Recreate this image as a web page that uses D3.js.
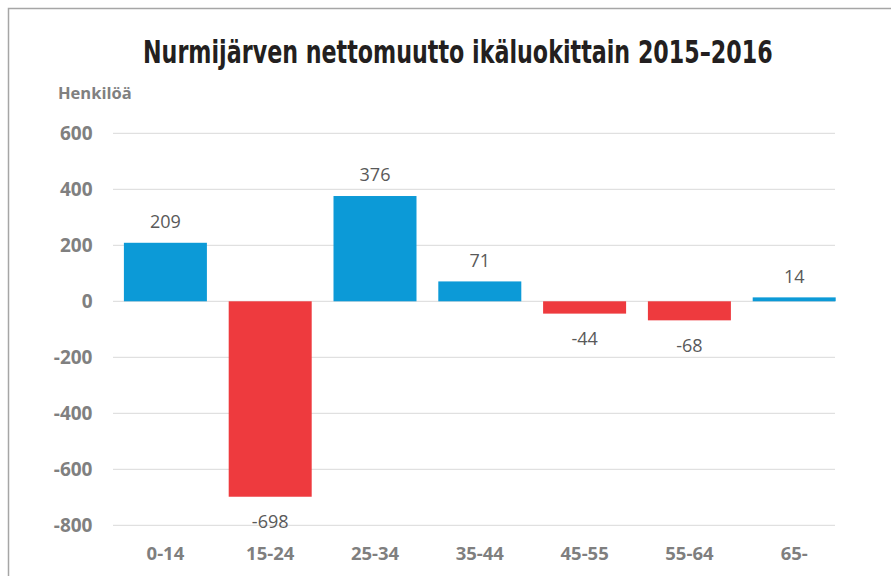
<!DOCTYPE html>
<html><head><meta charset="utf-8">
<script src="https://cdn.jsdelivr.net/npm/d3@7"></script>
<style>body{margin:0;background:#fff}svg{display:block}</style>
</head><body>
<svg id="c" width="891" height="576"></svg>
<script>
const categories = ["0-14","15-24","25-34","35-44","45-55","55-64","65-"];
const values = [209,-698,376,71,-44,-68,14];
const yTicks = [600,400,200,0,-200,-400,-600,-800];
const title = "Nurmijärven nettomuutto ikäluokittain 2015–2016";
const yLabel = "Henkilöä";

const svg = d3.select("#c");
svg.append("rect").attr("x",8.5).attr("y",8.5).attr("width",900).attr("height",600)
  .attr("fill","#fff").attr("stroke","#a6a6a6").attr("stroke-width",1.5);

const x = d3.scaleBand().domain(categories).range([113,846.6]).paddingInner(0.208).paddingOuter(0.104);
const y = d3.scaleLinear().domain([-800,600]).range([525.3,133.3]);

const fontL = "'Open Sans', 'Noto Sans', sans-serif";

// gridlines
svg.append("g").selectAll("line").data(yTicks).join("line")
  .attr("x1",113).attr("x2",835).attr("y1",d=>y(d)).attr("y2",d=>y(d))
  .attr("stroke","#d9d9d9").attr("stroke-width",1);

// y axis labels
const yAxis = d3.axisLeft(y).tickValues(yTicks).tickSize(0).tickPadding(0).tickFormat(d=>String(d));
const ga = svg.append("g").attr("transform","translate(92.5,0)").call(yAxis);
ga.select(".domain").remove();
ga.selectAll("text").attr("font-family",fontL).attr("font-weight","bold").attr("font-size","19px").attr("fill","#808080").attr("dy","0.35em");

// x axis labels
const xAxis = d3.axisBottom(x).tickSize(0).tickPadding(0);
const gx = svg.append("g").attr("transform","translate(0,547)").call(xAxis);
gx.select(".domain").remove();
gx.selectAll("text").attr("font-family",fontL).attr("font-weight","bold").attr("font-size","18.5px").attr("fill","#7f7f7f");

// bars
svg.append("g").selectAll("rect").data(values).join("rect")
  .attr("x",(d,i)=>x(categories[i])).attr("width",x.bandwidth())
  .attr("y",d=>y(Math.max(0,d))).attr("height",d=>Math.abs(y(d)-y(0)))
  .attr("fill",d=>d>=0?"#0c9ad7":"#ee3a3e");

// data labels
svg.append("g").selectAll("text").data(values).join("text")
  .attr("x",(d,i)=>x(categories[i])+x.bandwidth()/2)
  .attr("y",d=>d>=0?y(d)-21:y(d)+25)
  .attr("dy","0.35em")
  .attr("text-anchor","middle").attr("font-family",fontL).attr("font-size","18px").attr("fill","#595959")
  .text(d=>d);

// y label
svg.append("text").attr("x",58).attr("y",99)
  .attr("font-family",fontL).attr("font-weight","bold").attr("font-size","16.5px").attr("fill","#808080").text(yLabel);

// title (condensed by horizontal scaling)
const tg = svg.append("g");
const tt = tg.append("text").attr("x",0).attr("y",0)
  .attr("font-family","'DejaVu Sans','Liberation Sans',sans-serif").attr("font-weight","bold")
  .attr("font-size","32px").attr("fill","#231f20").text(title);
const tw = tt.node().getComputedTextLength();
tg.attr("transform",`translate(143,63) scale(${630/tw},1)`);
</script>
</body></html>
